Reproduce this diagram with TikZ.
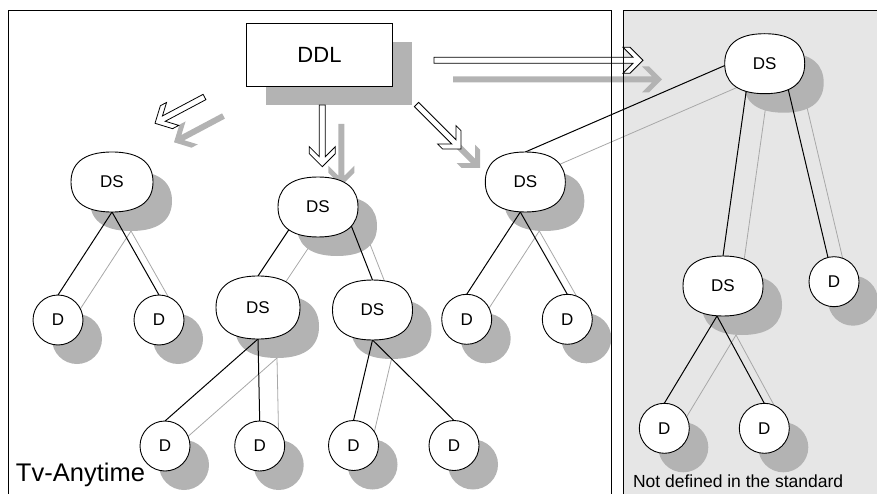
\documentclass[tikz,border=0pt]{standalone}
\usepackage{fontspec}
\setmainfont{Liberation Sans}
\usetikzlibrary{calc}
\pgfdeclarelayer{bgl}
\pgfdeclarelayer{shedges}
\pgfdeclarelayer{shadow}
\pgfdeclarelayer{edges}
\pgfdeclarelayer{top}
\pgfsetlayers{bgl,shedges,shadow,edges,main,top}
\definecolor{shcol}{HTML}{B3B3B3}
\definecolor{shline}{HTML}{A8A8A8}
\definecolor{panelgray}{HTML}{E6E6E6}

\tikzset{
  every node/.style={inner sep=0pt, outer sep=0pt},
  dsbox/.style={rectangle, draw=none, fill=none, minimum width=80pt, minimum height=60pt},
  dsshape/.style={draw=black, line width=0.9pt, fill=white},
  dstext/.style={font=\fontsize{17}{20}\selectfont},
  dcirc/.style={circle, draw=black, line width=0.9pt, fill=white, minimum size=50pt,
    font=\fontsize{17}{20}\selectfont},
  ddlbox/.style={rectangle, draw=black, line width=0.9pt, fill=white, minimum width=146pt,
    minimum height=63pt, font=\fontsize{22}{26}\selectfont},
  harrow/.style={draw=black, line width=0.8pt, fill=white, line join=miter},
  link/.style={draw=black, line width=1pt},
  noshadow/.style={},
  panelline/.style={draw=black, line width=1pt},
  shadownodes/.style={transform canvas={xshift=19pt, yshift=-19pt},
    dsshape/.style={draw=none, fill=shcol},
    dstext/.append style={text=shcol},
    dcirc/.append style={draw=none, fill=shcol, text=shcol},
    ddlbox/.append style={draw=none, fill=shcol, text=shcol},
    harrow/.style={draw=none, fill=shcol}},
  shadowedges/.style={transform canvas={xshift=19pt, yshift=-19pt},
    link/.style={draw=shline, line width=0.8pt},
    noshadow/.style={draw=none}},
}

\def\ksd{0.55}
\def\ktp{0.75}
% rounded "DS" box: invisible rectangle node, oval outline, then its text
\newcommand\dsnode[3][]{%
  \node[dsbox,#1] (#2) at (#3) {};
  \path[dsshape] (#2.east)
    .. controls ($(#2.east)!\ksd!(#2.north east)$) and ($(#2.north)!\ktp!(#2.north east)$) .. (#2.north)
    .. controls ($(#2.north)!\ktp!(#2.north west)$) and ($(#2.west)!\ksd!(#2.north west)$) .. (#2.west)
    .. controls ($(#2.west)!\ksd!(#2.south west)$) and ($(#2.south)!\ktp!(#2.south west)$) .. (#2.south)
    .. controls ($(#2.south)!\ktp!(#2.south east)$) and ($(#2.east)!\ksd!(#2.south east)$) .. (#2.east)
    -- cycle;
  \node[dstext] (#2-t) at (#2.center) {DS};}

\newcommand\blockarrow[2]{%
  \path[harrow] (#2)
    -- ($(#2)!13pt!(#1)!13pt!90:(#1)$)
    -- ($(#2)!20pt!(#1)!13pt!90:(#1)$)
    -- ($(#2)!10pt!(#1)!3pt!90:(#1)$)
    -- ($(#1)!3pt!-90:(#2)$)
    -- ($(#1)!3pt!90:(#2)$)
    -- ($(#2)!10pt!(#1)!3pt!-90:(#1)$)
    -- ($(#2)!20pt!(#1)!13pt!-90:(#1)$)
    -- ($(#2)!13pt!(#1)!13pt!-90:(#1)$)
    -- cycle;}

\newcommand\scenenodes{%
  \node[ddlbox] (ddl) at (319.5,54.7) {DDL};
  % left tree
  \dsnode[minimum width=82pt]{ds1}{112,182}
  \node[dcirc] (d1a) at (58,320) {D};
  \node[dcirc] (d1b) at (159,320) {D};
  % middle tree
  \dsnode{ds2}{318,207}
  \dsnode[minimum width=84pt, minimum height=63pt]{ds2a}{258,307.5}
  \dsnode{ds2b}{372.5,310}
  \node[dcirc] (d2a1) at (165,446) {D};
  \node[dcirc] (d2a2) at (259.7,446) {D};
  \node[dcirc] (d2b1) at (353.5,445.5) {D};
  \node[dcirc] (d2b2) at (454,445.5) {D};
  % third tree
  \dsnode{ds3}{525.3,182}
  \node[dcirc] (d3a) at (466.7,319.3) {D};
  \node[dcirc] (d3b) at (567.3,319.3) {D};
  % right panel tree
  \dsnode{ds4}{764.7,63.7}
  \dsnode{ds4a}{723,286}
  \node[dcirc] (d4b) at (834,281.7) {D};
  \node[dcirc] (d4a1) at (664.3,428.3) {D};
  \node[dcirc] (d4a2) at (764.3,428.3) {D};
  % block arrows
  \coordinate (a1s) at (434,60.3);
  \coordinate (a1e) at (643,60.3);
  \coordinate (a2s) at (204.5,97);
  \coordinate (a2e) at (155,123.3);
  \coordinate (a3s) at (322.3,105);
  \coordinate (a3e) at (322.3,166.7);
  \coordinate (a4s) at (416.5,104.5);
  \coordinate (a4e) at (461,149);
  \blockarrow{a1s}{a1e}
  \blockarrow{a2s}{a2e}
  \blockarrow{a3s}{a3e}
  \blockarrow{a4s}{a4e}
}

\newcommand\sceneedges{%
  \draw[link] (ds1.south) -- (d1a.north);
  \draw[link] (ds1.south) -- (d1b.north);
  \draw[link] ($(ds2.center)+(-26,18)$) -- (ds2a.north);
  \draw[link] ($(ds2.center)+(30,10.5)$) -- (ds2b.north);
  \draw[link] (ds2a.south) -- (d2a1.north);
  \draw[link] (ds2a.south) -- (d2a2.north);
  \draw[link] (ds2b.south) -- (d2b1.north);
  \draw[link, noshadow] (ds2b.south) -- (d2b2.north);
  \draw[link] ($(ds3.south)+(-5,0)$) -- (d3a.north);
  \draw[link] ($(ds3.south)+(-5,0)$) -- (d3b.north);
  \draw[link] (ds3.north) -- ($(ds4.west)+(2,1)$);
  \draw[link] ($(ds4.center)+(-18,24)$) -- (ds4a.north);
  \draw[link] ($(ds4.center)+(23,23.5)$) -- (d4b.104);
  \draw[link] ($(ds4a.south)+(-6,0)$) -- (d4a1.north);
  \draw[link] ($(ds4a.south)+(-6,0)$) -- (d4a2.north);
}

\begin{document}
\begin{tikzpicture}[x=1pt, y=-1pt]
  \useasboundingbox (0,0) rectangle (877,494);
  \begin{pgfonlayer}{bgl}
    \fill[panelgray] (623.5,11) rectangle (895,515);
  \end{pgfonlayer}
  % shadows of nodes and arrows (same names, drawn shifted on the canvas)
  \begin{pgfonlayer}{shadow}
    \begin{scope}[shadownodes]
      \scenenodes
    \end{scope}
  \end{pgfonlayer}
  % main nodes
  \scenenodes
  % shadows of connectors
  \begin{pgfonlayer}{shedges}
    \begin{scope}[shadowedges]
      \sceneedges
    \end{scope}
  \end{pgfonlayer}
  % connectors
  \begin{pgfonlayer}{edges}
    \sceneedges
  \end{pgfonlayer}
  % panel frames and labels
  \begin{pgfonlayer}{top}
    \draw[panelline] (8,515) -- (8,11) -- (611.7,11) -- (611.7,515);
    \draw[panelline] (623.5,515) -- (623.5,11) -- (895,11);
    \node[anchor=base west, font=\fontsize{25.5}{30}\selectfont] (tva) at (16,481.7) {Tv-Anytime};
    \node[anchor=base west, font=\fontsize{17.5}{20}\selectfont] (nds) at (633,487.3) {Not defined in the standard};
  \end{pgfonlayer}
\end{tikzpicture}
\end{document}
